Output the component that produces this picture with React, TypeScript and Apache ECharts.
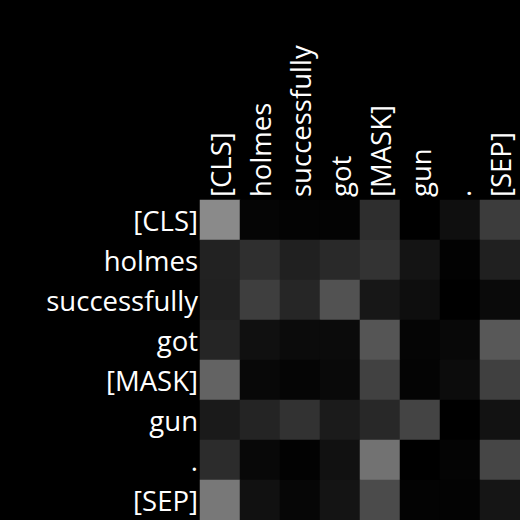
import React, { useEffect, useRef } from "react";
import * as echarts from "echarts";

const tokens = ["[CLS]", "holmes", "successfully", "got", "[MASK]", "gun", ".", "[SEP]"];

// attention weights (gray level / 255)
const rowCLS = [0.54, 0.02, 0.01, 0.01, 0.18, 0.0, 0.06, 0.235];
const rowHolmes = [0.133, 0.184, 0.125, 0.161, 0.2, 0.078, 0.008, 0.125];
const rowSuccessfully = [0.129, 0.243, 0.149, 0.322, 0.09, 0.055, 0.0, 0.039];
const rowGot = [0.145, 0.063, 0.043, 0.043, 0.333, 0.02, 0.031, 0.345];
const rowMask = [0.388, 0.031, 0.02, 0.035, 0.255, 0.016, 0.047, 0.251];
const rowGun = [0.102, 0.141, 0.196, 0.106, 0.157, 0.267, 0.0, 0.071];
const rowDot = [0.173, 0.031, 0.008, 0.067, 0.447, 0.0, 0.016, 0.275];
const rowSEP = [0.471, 0.067, 0.024, 0.078, 0.294, 0.012, 0.012, 0.082];

const matrix = [rowCLS, rowHolmes, rowSuccessfully, rowGot, rowMask, rowGun, rowDot, rowSEP];

export default function App() {
  const ref = useRef<HTMLDivElement>(null);
  useEffect(() => {
    if (!ref.current) return;
    const chart = echarts.init(ref.current, null, { renderer: "svg" });
    const data: [number, number, number][] = [];
    matrix.forEach((row, r) => row.forEach((v, c) => data.push([c, r, v])));
    const font = "'Open Sans', sans-serif";
    chart.setOption({
      animation: false,
      backgroundColor: "#000000",
      grid: { left: 200, top: 200, width: 320, height: 320 },
      xAxis: {
        type: "category",
        data: tokens,
        position: "top",
        axisLine: { show: false },
        axisTick: { show: false },
        splitLine: { show: false },
        axisLabel: {
          rotate: -90,
          color: "#ffffff",
          fontSize: 27.5,
          fontFamily: font,
          margin: 3,
          interval: 0,
        },
      },
      yAxis: {
        type: "category",
        data: tokens,
        inverse: true,
        axisLine: { show: false },
        axisTick: { show: false },
        splitLine: { show: false },
        axisLabel: {
          color: "#ffffff",
          fontSize: 27.5,
          fontFamily: font,
          margin: 2,
          interval: 0,
        },
      },
      visualMap: {
        show: false,
        min: 0,
        max: 1,
        inRange: { color: ["#000000", "#ffffff"] },
      },
      series: [
        {
          type: "heatmap",
          data,
          itemStyle: { borderWidth: 0 },
        },
      ],
    });
    return () => chart.dispose();
  }, []);
  return <div ref={ref} style={{ width: 520, height: 520, position: "fixed", left: 0, top: 0 }} />;
}
